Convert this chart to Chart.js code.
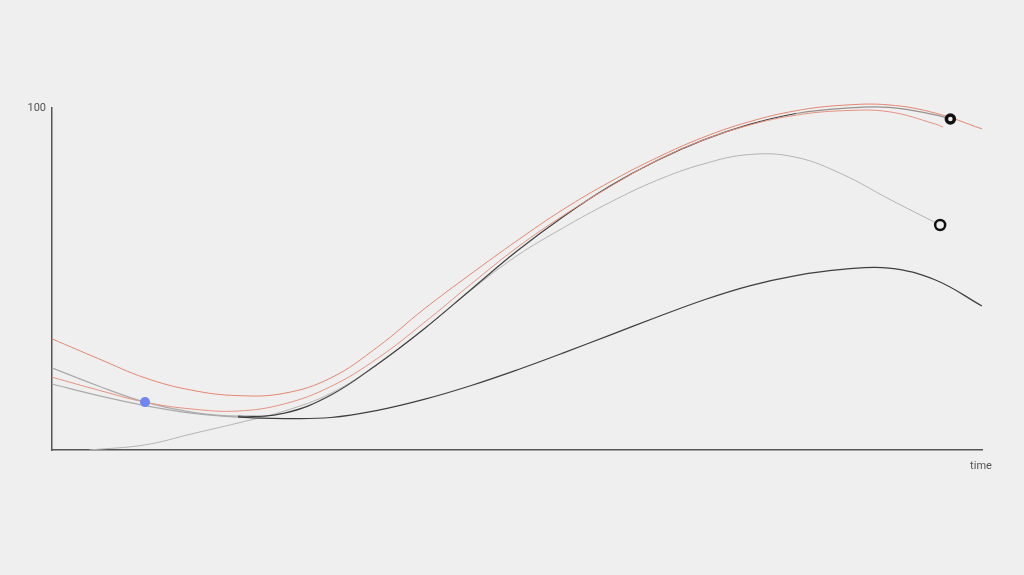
<!DOCTYPE html>
<html>
<head>
<meta charset="utf-8">
<title>curves over time</title>
<script src="https://cdn.jsdelivr.net/npm/chart.js@4.4.1/dist/chart.umd.min.js"></script>
<style>
  html, body { margin: 0; padding: 0; background: #efefef; }
  canvas { display: block; }
</style>
</head>
<body>
<canvas id="curveChart" width="1024" height="575"></canvas>
<script>
// values, time 0..100, value 0..100
const redUpperTimes = [0, 5, 10, 15, 20, 25, 30, 35, 40, 45, 50, 55, 60, 65, 70, 75, 80, 85, 90, 95, 100];
const redUpper = [32.5, 26.7, 21.1, 17.5, 15.9, 16.6, 21.1, 30.1, 41.2, 51.4, 61.2, 70.4, 78.4, 85.4, 91.4, 96.0, 99.2, 100.8, 100.9, 98.5, 93.9];

const redLowerTimes = [0, 5, 10, 15, 20, 25, 30, 35, 40, 45, 50, 55, 60, 65, 70, 75, 80, 85, 90, 95, 95.8];
const redLower = [21.3, 17.5, 14.0, 12.0, 11.4, 13.5, 18.6, 26.8, 37.2, 48.4, 59.2, 68.6, 77.0, 84.6, 90.6, 95.0, 97.9, 99.2, 98.9, 95.3, 94.4];

const darkUpperTimes = [0, 5, 10, 15, 20, 25, 30, 35, 40, 45, 50, 55, 60, 65, 70, 75, 80, 85, 90, 95, 96.6];
const darkUpper = [24.0, 18.7, 14.0, 11.1, 9.9, 10.8, 16.1, 25.1, 35.4, 46.8, 58.2, 68.3, 77.2, 84.6, 90.6, 95.2, 98.4, 99.9, 100.2, 98.0, 96.8];

const darkLowerTimes = [0, 5, 10, 15, 20, 25, 30, 35, 40, 45, 50, 55, 60, 65, 70, 75, 80, 85, 90, 95, 100];
const darkLower = [19.3, 15.9, 13.0, 10.8, 9.6, 9.2, 9.5, 11.6, 14.8, 18.8, 23.4, 28.4, 33.6, 38.8, 43.8, 48.0, 51.0, 52.8, 53.2, 49.7, 42.1];

const grayArcTimes = [4, 10, 15, 20, 25, 30, 35, 40, 45, 50, 55, 60, 65, 70, 75, 80, 85, 90, 95.5];
const grayArc = [0, 1.5, 4.7, 7.9, 11.4, 16.6, 25.1, 35.4, 46.6, 56.8, 65.0, 72.4, 78.8, 83.6, 86.4, 85.6, 80.6, 73.4, 65.8];

const yTicks = [0, 100];
const xLabel = "time";
const blueIndex = 2; // the blue dot on the dark upper curve

document.addEventListener("DOMContentLoaded", function () {
  const ctx = document.getElementById("curveChart");
  if (!ctx) return;

  const toPoints = (xs, ys) => xs.map((x, i) => ({ x: x, y: ys[i] }));
  // left ends of the two dark curves are drawn light grey
  const fadeLeft = (c) => c.p0.parsed.x < 17 ? "#ababab" : "#3f3f3f";
  // the upper dark curve also pales once it runs under the red ones
  const fadeBoth = (c) => c.p0.parsed.x < 17 ? "#ababab" : c.p0.parsed.x >= 80 ? "#9a9090" : "#3f3f3f";

  const lastUpper = darkUpperTimes.length - 1;
  const lastArc = grayArcTimes.length - 1;

  // blue dot, filled ring at the end of the dark curve, open ring at the end of the grey arc
  const markers = [
    { x: darkUpperTimes[blueIndex], y: darkUpper[blueIndex] },
    { x: darkUpperTimes[lastUpper], y: darkUpper[lastUpper] },
    { x: grayArcTimes[lastArc], y: grayArc[lastArc] }
  ];

  Chart.defaults.font.family = "Roboto, 'Liberation Sans', sans-serif";

  // axis name sits just past the right end of the x axis
  const axisName = {
    id: "axisName",
    afterDraw(chart) {
      const x = chart.scales.x;
      const c = chart.ctx;
      c.save();
      c.font = "11px Roboto, 'Liberation Sans', sans-serif";
      c.fillStyle = "#555";
      c.textAlign = "center";
      c.textBaseline = "middle";
      c.fillText(xLabel, x.right - 1, x.top + 16);
      c.restore();
    }
  };

  new Chart(ctx, {
    type: "line",
    data: {
      datasets: [
        {
          data: markers,
          showLine: false,
          pointRadius: [5, 4, 5],
          pointBackgroundColor: ["#6f85f3", "#efefef", "#efefef"],
          pointBorderColor: ["#6f85f3", "#111", "#111"],
          pointBorderWidth: [0, 3.5, 2.5],
          clip: false
        },
        {
          data: toPoints(redUpperTimes, redUpper),
          borderColor: "#e4866f",
          borderWidth: 1,
          pointRadius: 0,
          tension: 0.4,
          clip: false
        },
        {
          data: toPoints(redLowerTimes, redLower),
          borderColor: "#e6917f",
          borderWidth: 1,
          pointRadius: 0,
          tension: 0.4,
          clip: false
        },
        {
          data: toPoints(darkUpperTimes, darkUpper),
          borderColor: "#3f3f3f",
          borderWidth: 1.2,
          segment: { borderColor: fadeBoth },
          pointRadius: 0,
          tension: 0.4,
          clip: false
        },
        {
          data: toPoints(darkLowerTimes, darkLower),
          borderColor: "#3f3f3f",
          borderWidth: 1.2,
          segment: { borderColor: fadeLeft },
          pointRadius: 0,
          tension: 0.4,
          clip: false
        },
        {
          data: toPoints(grayArcTimes, grayArc),
          borderColor: "#b3b3b3",
          borderWidth: 1,
          pointRadius: 0,
          tension: 0.4,
          clip: false
        }
      ]
    },
    options: {
      responsive: false,
      animation: false,
      events: [],
      layout: { padding: { top: 108, right: 42, bottom: 97, left: 0 } },
      plugins: {
        legend: { display: false },
        title: { display: false },
        tooltip: { enabled: false }
      },
      scales: {
        x: {
          type: "linear",
          min: 0,
          max: 100,
          grid: { display: false, drawTicks: false },
          border: { display: true, color: "#555", width: 1.5 },
          ticks: { display: false },
          afterFit: function (scale) { scale.height = 28; }
        },
        y: {
          min: 0,
          max: 100,
          grid: { display: false, drawTicks: false },
          border: { display: true, color: "#555", width: 1.5 },
          afterBuildTicks: function (scale) {
            scale.ticks = yTicks.map((v) => ({ value: v }));
          },
          ticks: {
            color: "#555",
            font: { size: 11 },
            padding: 6,
            callback: function (v) { return v === 100 ? "100" : ""; }
          },
          afterFit: function (scale) { scale.width = 52; }
        }
      }
    },
    plugins: [axisName]
  });
});
</script>
</body>
</html>
